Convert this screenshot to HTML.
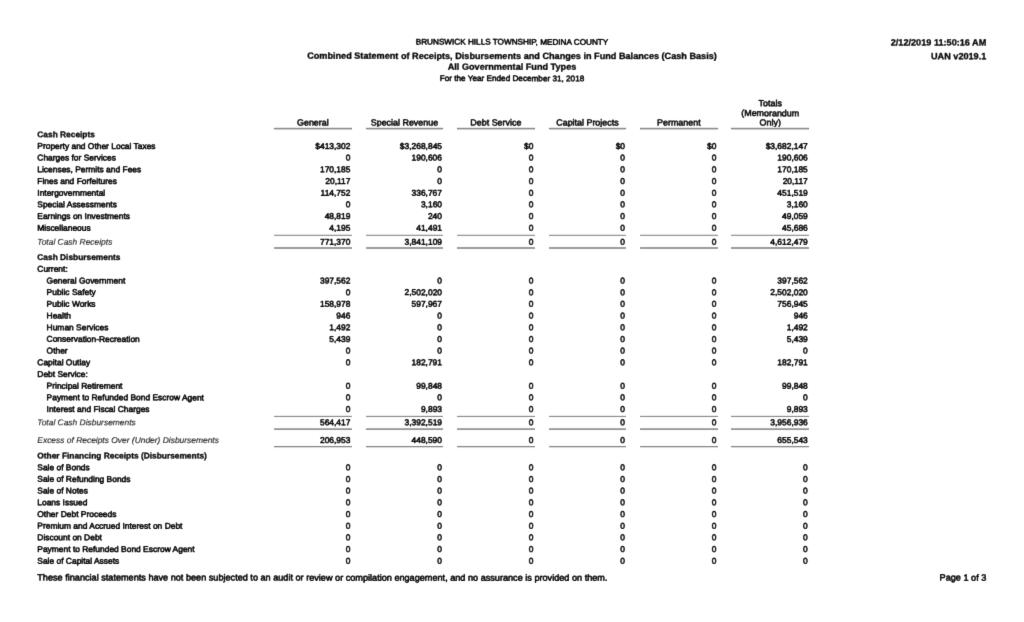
<!DOCTYPE html>
<html lang="en">
<head>
<meta charset="utf-8">
<title>Combined Statement of Receipts, Disbursements and Changes in Fund Balances</title>
<style>
html,body{margin:0;padding:0;background:#fff;}
body{width:1024px;height:622px;position:relative;overflow:hidden;
 font-family:"Liberation Sans",Arial,Helvetica,sans-serif;color:#1c1c1c;}
.pg{position:absolute;left:0;top:0;width:1024px;height:622px;will-change:transform;filter:grayscale(1) url(#soft);}
.t{position:absolute;left:0;top:0;transform-origin:0 0;white-space:nowrap;line-height:12px;
 font-size:8.43px;-webkit-text-stroke:0.52px #1c1c1c;}
.b{font-weight:bold;font-size:8.37px;-webkit-text-stroke:0.3px #1c1c1c;}
.i{font-style:italic;color:#383838;-webkit-text-stroke:0.16px #383838;}
.n{text-align:right;width:78px;}
.c{text-align:center;width:1024px;}
.h{text-align:center;width:77.7px;font-size:8.92px;-webkit-text-stroke:0.5px #1c1c1c;}
.g,.b.g{font-size:9.14px;}
.s{font-size:8.18px;-webkit-text-stroke-width:0.5px;}
.e{text-align:right;width:200px;}
.ln{position:absolute;width:77.7px;}
.u0{top:127px;height:3px;background:linear-gradient(to bottom,#f2f2f2 0px 1px,#7f7f7f 1px 2px,#d9d9d9 2px 3px);}
.u1{top:234px;height:2px;background:linear-gradient(to bottom,#e9e9e9 0px 1px,#9c9c9c 1px 2px);}
.u2{top:247px;height:2px;background:linear-gradient(to bottom,#a5a5a5 0px 1px,#a5a5a5 1px 2px);}
.u3{top:415px;height:2px;background:linear-gradient(to bottom,#f5f5f5 0px 1px,#8f8f8f 1px 2px);}
.u4{top:428px;height:2px;background:linear-gradient(to bottom,#b5b5b5 0px 1px,#9c9c9c 1px 2px);}
.u5{top:446px;height:2px;background:linear-gradient(to bottom,#8c8c8c 0px 1px,#e5e5e5 1px 2px);}
</style>
</head>
<body>
<svg width="0" height="0" style="position:absolute" aria-hidden="true">
<filter id="soft" x="0" y="0" width="100%" height="100%" color-interpolation-filters="sRGB">
<feConvolveMatrix order="3" kernelMatrix="0.02 0.085 0.02 0.085 0.580 0.085 0.02 0.085 0.02" edgeMode="none"/>
<feComponentTransfer><feFuncA type="linear" slope="1.2" intercept="-0.04"/></feComponentTransfer>
</filter>
</svg>
<div class="pg">
<!-- report header -->
<div class="t c s" style="transform:matrix(1,0.0005,0,1,0.00,36.36)">BRUNSWICK HILLS TOWNSHIP, MEDINA COUNTY</div>
<div class="t c b g" style="transform:matrix(1,0.0005,0,1,0.00,49.68)">Combined Statement of Receipts, Disbursements and Changes in Fund Balances (Cash Basis)</div>
<div class="t c b g" style="transform:matrix(1,0.0005,0,1,0.00,60.48)">All Governmental Fund Types</div>
<div class="t c s" style="transform:matrix(1,0.0005,0,1,0.00,72.86)">For the Year Ended December 31, 2018</div>
<div class="t e b g" style="transform:matrix(1,0.0005,0,1,786.30,36.46)">2/12/2019 11:50:16 AM</div>
<div class="t e b g" style="transform:matrix(1,0.0005,0,1,786.30,50.25)">UAN v2019.1</div>
<!-- column headings -->
<div class="t h" style="transform:matrix(1,0.0005,0,1,274.00,116.51)">General</div>
<div class="t h" style="transform:matrix(1,0.0005,0,1,365.60,116.51)">Special Revenue</div>
<div class="t h" style="transform:matrix(1,0.0005,0,1,457.00,116.51)">Debt Service</div>
<div class="t h" style="transform:matrix(1,0.0005,0,1,548.60,116.51)">Capital Projects</div>
<div class="t h" style="transform:matrix(1,0.0005,0,1,640.00,116.51)">Permanent</div>
<div class="t h" style="transform:matrix(1,0.0005,0,1,731.40,97.21)">Totals</div>
<div class="t h" style="transform:matrix(1,0.0005,0,1,731.40,107.11)">(Memorandum</div>
<div class="t h" style="transform:matrix(1,0.0005,0,1,731.40,116.51)">Only)</div>
<div class="ln u0" style="left:274.0px"></div>
<div class="ln u0" style="left:365.6px"></div>
<div class="ln u0" style="left:457.0px"></div>
<div class="ln u0" style="left:548.6px"></div>
<div class="ln u0" style="left:640.0px"></div>
<div class="ln u0" style="left:731.4px"></div>
<!-- statement rows -->
<div class="t b" style="transform:matrix(1,0.0005,0,1,37.30,128.18)">Cash Receipts</div>
<div class="t" style="transform:matrix(1,0.0005,0,1,37.30,139.87)">Property and Other Local Taxes</div>
<div class="t n" style="transform:matrix(1,0.0005,0,1,272.40,139.87)">$413,302</div>
<div class="t n" style="transform:matrix(1,0.0005,0,1,364.00,139.87)">$3,268,845</div>
<div class="t n" style="transform:matrix(1,0.0005,0,1,455.40,139.87)">$0</div>
<div class="t n" style="transform:matrix(1,0.0005,0,1,547.00,139.87)">$0</div>
<div class="t n" style="transform:matrix(1,0.0005,0,1,638.40,139.87)">$0</div>
<div class="t n" style="transform:matrix(1,0.0005,0,1,729.80,139.87)">$3,682,147</div>
<div class="t" style="transform:matrix(1,0.0005,0,1,37.30,151.56)">Charges for Services</div>
<div class="t n" style="transform:matrix(1,0.0005,0,1,272.40,151.56)">0</div>
<div class="t n" style="transform:matrix(1,0.0005,0,1,364.00,151.56)">190,606</div>
<div class="t n" style="transform:matrix(1,0.0005,0,1,455.40,151.56)">0</div>
<div class="t n" style="transform:matrix(1,0.0005,0,1,547.00,151.56)">0</div>
<div class="t n" style="transform:matrix(1,0.0005,0,1,638.40,151.56)">0</div>
<div class="t n" style="transform:matrix(1,0.0005,0,1,729.80,151.56)">190,606</div>
<div class="t" style="transform:matrix(1,0.0005,0,1,37.30,163.25)">Licenses, Permits and Fees</div>
<div class="t n" style="transform:matrix(1,0.0005,0,1,272.40,163.25)">170,185</div>
<div class="t n" style="transform:matrix(1,0.0005,0,1,364.00,163.25)">0</div>
<div class="t n" style="transform:matrix(1,0.0005,0,1,455.40,163.25)">0</div>
<div class="t n" style="transform:matrix(1,0.0005,0,1,547.00,163.25)">0</div>
<div class="t n" style="transform:matrix(1,0.0005,0,1,638.40,163.25)">0</div>
<div class="t n" style="transform:matrix(1,0.0005,0,1,729.80,163.25)">170,185</div>
<div class="t" style="transform:matrix(1,0.0005,0,1,37.30,174.94)">Fines and Forfeitures</div>
<div class="t n" style="transform:matrix(1,0.0005,0,1,272.40,174.94)">20,117</div>
<div class="t n" style="transform:matrix(1,0.0005,0,1,364.00,174.94)">0</div>
<div class="t n" style="transform:matrix(1,0.0005,0,1,455.40,174.94)">0</div>
<div class="t n" style="transform:matrix(1,0.0005,0,1,547.00,174.94)">0</div>
<div class="t n" style="transform:matrix(1,0.0005,0,1,638.40,174.94)">0</div>
<div class="t n" style="transform:matrix(1,0.0005,0,1,729.80,174.94)">20,117</div>
<div class="t" style="transform:matrix(1,0.0005,0,1,37.30,186.63)">Intergovernmental</div>
<div class="t n" style="transform:matrix(1,0.0005,0,1,272.40,186.63)">114,752</div>
<div class="t n" style="transform:matrix(1,0.0005,0,1,364.00,186.63)">336,767</div>
<div class="t n" style="transform:matrix(1,0.0005,0,1,455.40,186.63)">0</div>
<div class="t n" style="transform:matrix(1,0.0005,0,1,547.00,186.63)">0</div>
<div class="t n" style="transform:matrix(1,0.0005,0,1,638.40,186.63)">0</div>
<div class="t n" style="transform:matrix(1,0.0005,0,1,729.80,186.63)">451,519</div>
<div class="t" style="transform:matrix(1,0.0005,0,1,37.30,198.32)">Special Assessments</div>
<div class="t n" style="transform:matrix(1,0.0005,0,1,272.40,198.32)">0</div>
<div class="t n" style="transform:matrix(1,0.0005,0,1,364.00,198.32)">3,160</div>
<div class="t n" style="transform:matrix(1,0.0005,0,1,455.40,198.32)">0</div>
<div class="t n" style="transform:matrix(1,0.0005,0,1,547.00,198.32)">0</div>
<div class="t n" style="transform:matrix(1,0.0005,0,1,638.40,198.32)">0</div>
<div class="t n" style="transform:matrix(1,0.0005,0,1,729.80,198.32)">3,160</div>
<div class="t" style="transform:matrix(1,0.0005,0,1,37.30,210.01)">Earnings on Investments</div>
<div class="t n" style="transform:matrix(1,0.0005,0,1,272.40,210.01)">48,819</div>
<div class="t n" style="transform:matrix(1,0.0005,0,1,364.00,210.01)">240</div>
<div class="t n" style="transform:matrix(1,0.0005,0,1,455.40,210.01)">0</div>
<div class="t n" style="transform:matrix(1,0.0005,0,1,547.00,210.01)">0</div>
<div class="t n" style="transform:matrix(1,0.0005,0,1,638.40,210.01)">0</div>
<div class="t n" style="transform:matrix(1,0.0005,0,1,729.80,210.01)">49,059</div>
<div class="t" style="transform:matrix(1,0.0005,0,1,37.30,221.70)">Miscellaneous</div>
<div class="t n" style="transform:matrix(1,0.0005,0,1,272.40,221.70)">4,195</div>
<div class="t n" style="transform:matrix(1,0.0005,0,1,364.00,221.70)">41,491</div>
<div class="t n" style="transform:matrix(1,0.0005,0,1,455.40,221.70)">0</div>
<div class="t n" style="transform:matrix(1,0.0005,0,1,547.00,221.70)">0</div>
<div class="t n" style="transform:matrix(1,0.0005,0,1,638.40,221.70)">0</div>
<div class="t n" style="transform:matrix(1,0.0005,0,1,729.80,221.70)">45,686</div>
<div class="t i" style="transform:matrix(1,0.0005,0,1,37.30,235.63)">Total Cash Receipts</div>
<div class="t n" style="transform:matrix(1,0.0005,0,1,272.40,235.63)">771,370</div>
<div class="t n" style="transform:matrix(1,0.0005,0,1,364.00,235.63)">3,841,109</div>
<div class="t n" style="transform:matrix(1,0.0005,0,1,455.40,235.63)">0</div>
<div class="t n" style="transform:matrix(1,0.0005,0,1,547.00,235.63)">0</div>
<div class="t n" style="transform:matrix(1,0.0005,0,1,638.40,235.63)">0</div>
<div class="t n" style="transform:matrix(1,0.0005,0,1,729.80,235.63)">4,612,479</div>
<div class="t b" style="transform:matrix(1,0.0005,0,1,37.30,251.03)">Cash Disbursements</div>
<div class="t" style="transform:matrix(1,0.0005,0,1,37.30,262.72)">Current:</div>
<div class="t" style="transform:matrix(1,0.0005,0,1,46.60,274.41)">General Government</div>
<div class="t n" style="transform:matrix(1,0.0005,0,1,272.40,274.41)">397,562</div>
<div class="t n" style="transform:matrix(1,0.0005,0,1,364.00,274.41)">0</div>
<div class="t n" style="transform:matrix(1,0.0005,0,1,455.40,274.41)">0</div>
<div class="t n" style="transform:matrix(1,0.0005,0,1,547.00,274.41)">0</div>
<div class="t n" style="transform:matrix(1,0.0005,0,1,638.40,274.41)">0</div>
<div class="t n" style="transform:matrix(1,0.0005,0,1,729.80,274.41)">397,562</div>
<div class="t" style="transform:matrix(1,0.0005,0,1,46.60,286.10)">Public Safety</div>
<div class="t n" style="transform:matrix(1,0.0005,0,1,272.40,286.10)">0</div>
<div class="t n" style="transform:matrix(1,0.0005,0,1,364.00,286.10)">2,502,020</div>
<div class="t n" style="transform:matrix(1,0.0005,0,1,455.40,286.10)">0</div>
<div class="t n" style="transform:matrix(1,0.0005,0,1,547.00,286.10)">0</div>
<div class="t n" style="transform:matrix(1,0.0005,0,1,638.40,286.10)">0</div>
<div class="t n" style="transform:matrix(1,0.0005,0,1,729.80,286.10)">2,502,020</div>
<div class="t" style="transform:matrix(1,0.0005,0,1,46.60,297.79)">Public Works</div>
<div class="t n" style="transform:matrix(1,0.0005,0,1,272.40,297.79)">158,978</div>
<div class="t n" style="transform:matrix(1,0.0005,0,1,364.00,297.79)">597,967</div>
<div class="t n" style="transform:matrix(1,0.0005,0,1,455.40,297.79)">0</div>
<div class="t n" style="transform:matrix(1,0.0005,0,1,547.00,297.79)">0</div>
<div class="t n" style="transform:matrix(1,0.0005,0,1,638.40,297.79)">0</div>
<div class="t n" style="transform:matrix(1,0.0005,0,1,729.80,297.79)">756,945</div>
<div class="t" style="transform:matrix(1,0.0005,0,1,46.60,309.48)">Health</div>
<div class="t n" style="transform:matrix(1,0.0005,0,1,272.40,309.48)">946</div>
<div class="t n" style="transform:matrix(1,0.0005,0,1,364.00,309.48)">0</div>
<div class="t n" style="transform:matrix(1,0.0005,0,1,455.40,309.48)">0</div>
<div class="t n" style="transform:matrix(1,0.0005,0,1,547.00,309.48)">0</div>
<div class="t n" style="transform:matrix(1,0.0005,0,1,638.40,309.48)">0</div>
<div class="t n" style="transform:matrix(1,0.0005,0,1,729.80,309.48)">946</div>
<div class="t" style="transform:matrix(1,0.0005,0,1,46.60,321.17)">Human Services</div>
<div class="t n" style="transform:matrix(1,0.0005,0,1,272.40,321.17)">1,492</div>
<div class="t n" style="transform:matrix(1,0.0005,0,1,364.00,321.17)">0</div>
<div class="t n" style="transform:matrix(1,0.0005,0,1,455.40,321.17)">0</div>
<div class="t n" style="transform:matrix(1,0.0005,0,1,547.00,321.17)">0</div>
<div class="t n" style="transform:matrix(1,0.0005,0,1,638.40,321.17)">0</div>
<div class="t n" style="transform:matrix(1,0.0005,0,1,729.80,321.17)">1,492</div>
<div class="t" style="transform:matrix(1,0.0005,0,1,46.60,332.86)">Conservation-Recreation</div>
<div class="t n" style="transform:matrix(1,0.0005,0,1,272.40,332.86)">5,439</div>
<div class="t n" style="transform:matrix(1,0.0005,0,1,364.00,332.86)">0</div>
<div class="t n" style="transform:matrix(1,0.0005,0,1,455.40,332.86)">0</div>
<div class="t n" style="transform:matrix(1,0.0005,0,1,547.00,332.86)">0</div>
<div class="t n" style="transform:matrix(1,0.0005,0,1,638.40,332.86)">0</div>
<div class="t n" style="transform:matrix(1,0.0005,0,1,729.80,332.86)">5,439</div>
<div class="t" style="transform:matrix(1,0.0005,0,1,46.60,344.55)">Other</div>
<div class="t n" style="transform:matrix(1,0.0005,0,1,272.40,344.55)">0</div>
<div class="t n" style="transform:matrix(1,0.0005,0,1,364.00,344.55)">0</div>
<div class="t n" style="transform:matrix(1,0.0005,0,1,455.40,344.55)">0</div>
<div class="t n" style="transform:matrix(1,0.0005,0,1,547.00,344.55)">0</div>
<div class="t n" style="transform:matrix(1,0.0005,0,1,638.40,344.55)">0</div>
<div class="t n" style="transform:matrix(1,0.0005,0,1,729.80,344.55)">0</div>
<div class="t" style="transform:matrix(1,0.0005,0,1,37.30,356.24)">Capital Outlay</div>
<div class="t n" style="transform:matrix(1,0.0005,0,1,272.40,356.24)">0</div>
<div class="t n" style="transform:matrix(1,0.0005,0,1,364.00,356.24)">182,791</div>
<div class="t n" style="transform:matrix(1,0.0005,0,1,455.40,356.24)">0</div>
<div class="t n" style="transform:matrix(1,0.0005,0,1,547.00,356.24)">0</div>
<div class="t n" style="transform:matrix(1,0.0005,0,1,638.40,356.24)">0</div>
<div class="t n" style="transform:matrix(1,0.0005,0,1,729.80,356.24)">182,791</div>
<div class="t" style="transform:matrix(1,0.0005,0,1,37.30,367.93)">Debt Service:</div>
<div class="t" style="transform:matrix(1,0.0005,0,1,46.60,379.62)">Principal Retirement</div>
<div class="t n" style="transform:matrix(1,0.0005,0,1,272.40,379.62)">0</div>
<div class="t n" style="transform:matrix(1,0.0005,0,1,364.00,379.62)">99,848</div>
<div class="t n" style="transform:matrix(1,0.0005,0,1,455.40,379.62)">0</div>
<div class="t n" style="transform:matrix(1,0.0005,0,1,547.00,379.62)">0</div>
<div class="t n" style="transform:matrix(1,0.0005,0,1,638.40,379.62)">0</div>
<div class="t n" style="transform:matrix(1,0.0005,0,1,729.80,379.62)">99,848</div>
<div class="t" style="transform:matrix(1,0.0005,0,1,46.60,391.31)">Payment to Refunded Bond Escrow Agent</div>
<div class="t n" style="transform:matrix(1,0.0005,0,1,272.40,391.31)">0</div>
<div class="t n" style="transform:matrix(1,0.0005,0,1,364.00,391.31)">0</div>
<div class="t n" style="transform:matrix(1,0.0005,0,1,455.40,391.31)">0</div>
<div class="t n" style="transform:matrix(1,0.0005,0,1,547.00,391.31)">0</div>
<div class="t n" style="transform:matrix(1,0.0005,0,1,638.40,391.31)">0</div>
<div class="t n" style="transform:matrix(1,0.0005,0,1,729.80,391.31)">0</div>
<div class="t" style="transform:matrix(1,0.0005,0,1,46.60,403.00)">Interest and Fiscal Charges</div>
<div class="t n" style="transform:matrix(1,0.0005,0,1,272.40,403.00)">0</div>
<div class="t n" style="transform:matrix(1,0.0005,0,1,364.00,403.00)">9,893</div>
<div class="t n" style="transform:matrix(1,0.0005,0,1,455.40,403.00)">0</div>
<div class="t n" style="transform:matrix(1,0.0005,0,1,547.00,403.00)">0</div>
<div class="t n" style="transform:matrix(1,0.0005,0,1,638.40,403.00)">0</div>
<div class="t n" style="transform:matrix(1,0.0005,0,1,729.80,403.00)">9,893</div>
<div class="t i" style="transform:matrix(1,0.0005,0,1,37.30,416.23)">Total Cash Disbursements</div>
<div class="t n" style="transform:matrix(1,0.0005,0,1,272.40,416.23)">564,417</div>
<div class="t n" style="transform:matrix(1,0.0005,0,1,364.00,416.23)">3,392,519</div>
<div class="t n" style="transform:matrix(1,0.0005,0,1,455.40,416.23)">0</div>
<div class="t n" style="transform:matrix(1,0.0005,0,1,547.00,416.23)">0</div>
<div class="t n" style="transform:matrix(1,0.0005,0,1,638.40,416.23)">0</div>
<div class="t n" style="transform:matrix(1,0.0005,0,1,729.80,416.23)">3,956,936</div>
<div class="t i" style="transform:matrix(1,0.0005,0,1,37.30,434.03)">Excess of Receipts Over (Under) Disbursements</div>
<div class="t n" style="transform:matrix(1,0.0005,0,1,272.40,434.03)">206,953</div>
<div class="t n" style="transform:matrix(1,0.0005,0,1,364.00,434.03)">448,590</div>
<div class="t n" style="transform:matrix(1,0.0005,0,1,455.40,434.03)">0</div>
<div class="t n" style="transform:matrix(1,0.0005,0,1,547.00,434.03)">0</div>
<div class="t n" style="transform:matrix(1,0.0005,0,1,638.40,434.03)">0</div>
<div class="t n" style="transform:matrix(1,0.0005,0,1,729.80,434.03)">655,543</div>
<div class="t b" style="transform:matrix(1,0.0005,0,1,37.30,449.48)">Other Financing Receipts (Disbursements)</div>
<div class="t" style="transform:matrix(1,0.0005,0,1,37.30,461.17)">Sale of Bonds</div>
<div class="t n" style="transform:matrix(1,0.0005,0,1,272.40,461.17)">0</div>
<div class="t n" style="transform:matrix(1,0.0005,0,1,364.00,461.17)">0</div>
<div class="t n" style="transform:matrix(1,0.0005,0,1,455.40,461.17)">0</div>
<div class="t n" style="transform:matrix(1,0.0005,0,1,547.00,461.17)">0</div>
<div class="t n" style="transform:matrix(1,0.0005,0,1,638.40,461.17)">0</div>
<div class="t n" style="transform:matrix(1,0.0005,0,1,729.80,461.17)">0</div>
<div class="t" style="transform:matrix(1,0.0005,0,1,37.30,472.86)">Sale of Refunding Bonds</div>
<div class="t n" style="transform:matrix(1,0.0005,0,1,272.40,472.86)">0</div>
<div class="t n" style="transform:matrix(1,0.0005,0,1,364.00,472.86)">0</div>
<div class="t n" style="transform:matrix(1,0.0005,0,1,455.40,472.86)">0</div>
<div class="t n" style="transform:matrix(1,0.0005,0,1,547.00,472.86)">0</div>
<div class="t n" style="transform:matrix(1,0.0005,0,1,638.40,472.86)">0</div>
<div class="t n" style="transform:matrix(1,0.0005,0,1,729.80,472.86)">0</div>
<div class="t" style="transform:matrix(1,0.0005,0,1,37.30,484.55)">Sale of Notes</div>
<div class="t n" style="transform:matrix(1,0.0005,0,1,272.40,484.55)">0</div>
<div class="t n" style="transform:matrix(1,0.0005,0,1,364.00,484.55)">0</div>
<div class="t n" style="transform:matrix(1,0.0005,0,1,455.40,484.55)">0</div>
<div class="t n" style="transform:matrix(1,0.0005,0,1,547.00,484.55)">0</div>
<div class="t n" style="transform:matrix(1,0.0005,0,1,638.40,484.55)">0</div>
<div class="t n" style="transform:matrix(1,0.0005,0,1,729.80,484.55)">0</div>
<div class="t" style="transform:matrix(1,0.0005,0,1,37.30,496.24)">Loans Issued</div>
<div class="t n" style="transform:matrix(1,0.0005,0,1,272.40,496.24)">0</div>
<div class="t n" style="transform:matrix(1,0.0005,0,1,364.00,496.24)">0</div>
<div class="t n" style="transform:matrix(1,0.0005,0,1,455.40,496.24)">0</div>
<div class="t n" style="transform:matrix(1,0.0005,0,1,547.00,496.24)">0</div>
<div class="t n" style="transform:matrix(1,0.0005,0,1,638.40,496.24)">0</div>
<div class="t n" style="transform:matrix(1,0.0005,0,1,729.80,496.24)">0</div>
<div class="t" style="transform:matrix(1,0.0005,0,1,37.30,507.93)">Other Debt Proceeds</div>
<div class="t n" style="transform:matrix(1,0.0005,0,1,272.40,507.93)">0</div>
<div class="t n" style="transform:matrix(1,0.0005,0,1,364.00,507.93)">0</div>
<div class="t n" style="transform:matrix(1,0.0005,0,1,455.40,507.93)">0</div>
<div class="t n" style="transform:matrix(1,0.0005,0,1,547.00,507.93)">0</div>
<div class="t n" style="transform:matrix(1,0.0005,0,1,638.40,507.93)">0</div>
<div class="t n" style="transform:matrix(1,0.0005,0,1,729.80,507.93)">0</div>
<div class="t" style="transform:matrix(1,0.0005,0,1,37.30,519.62)">Premium and Accrued Interest on Debt</div>
<div class="t n" style="transform:matrix(1,0.0005,0,1,272.40,519.62)">0</div>
<div class="t n" style="transform:matrix(1,0.0005,0,1,364.00,519.62)">0</div>
<div class="t n" style="transform:matrix(1,0.0005,0,1,455.40,519.62)">0</div>
<div class="t n" style="transform:matrix(1,0.0005,0,1,547.00,519.62)">0</div>
<div class="t n" style="transform:matrix(1,0.0005,0,1,638.40,519.62)">0</div>
<div class="t n" style="transform:matrix(1,0.0005,0,1,729.80,519.62)">0</div>
<div class="t" style="transform:matrix(1,0.0005,0,1,37.30,531.31)">Discount on Debt</div>
<div class="t n" style="transform:matrix(1,0.0005,0,1,272.40,531.31)">0</div>
<div class="t n" style="transform:matrix(1,0.0005,0,1,364.00,531.31)">0</div>
<div class="t n" style="transform:matrix(1,0.0005,0,1,455.40,531.31)">0</div>
<div class="t n" style="transform:matrix(1,0.0005,0,1,547.00,531.31)">0</div>
<div class="t n" style="transform:matrix(1,0.0005,0,1,638.40,531.31)">0</div>
<div class="t n" style="transform:matrix(1,0.0005,0,1,729.80,531.31)">0</div>
<div class="t" style="transform:matrix(1,0.0005,0,1,37.30,543.00)">Payment to Refunded Bond Escrow Agent</div>
<div class="t n" style="transform:matrix(1,0.0005,0,1,272.40,543.00)">0</div>
<div class="t n" style="transform:matrix(1,0.0005,0,1,364.00,543.00)">0</div>
<div class="t n" style="transform:matrix(1,0.0005,0,1,455.40,543.00)">0</div>
<div class="t n" style="transform:matrix(1,0.0005,0,1,547.00,543.00)">0</div>
<div class="t n" style="transform:matrix(1,0.0005,0,1,638.40,543.00)">0</div>
<div class="t n" style="transform:matrix(1,0.0005,0,1,729.80,543.00)">0</div>
<div class="t" style="transform:matrix(1,0.0005,0,1,37.30,554.69)">Sale of Capital Assets</div>
<div class="t n" style="transform:matrix(1,0.0005,0,1,272.40,554.69)">0</div>
<div class="t n" style="transform:matrix(1,0.0005,0,1,364.00,554.69)">0</div>
<div class="t n" style="transform:matrix(1,0.0005,0,1,455.40,554.69)">0</div>
<div class="t n" style="transform:matrix(1,0.0005,0,1,547.00,554.69)">0</div>
<div class="t n" style="transform:matrix(1,0.0005,0,1,638.40,554.69)">0</div>
<div class="t n" style="transform:matrix(1,0.0005,0,1,729.80,554.69)">0</div>
<!-- total rules -->
<div class="ln u1" style="left:274.0px"></div>
<div class="ln u1" style="left:365.6px"></div>
<div class="ln u1" style="left:457.0px"></div>
<div class="ln u1" style="left:548.6px"></div>
<div class="ln u1" style="left:640.0px"></div>
<div class="ln u1" style="left:731.4px"></div>
<div class="ln u2" style="left:274.0px"></div>
<div class="ln u2" style="left:365.6px"></div>
<div class="ln u2" style="left:457.0px"></div>
<div class="ln u2" style="left:548.6px"></div>
<div class="ln u2" style="left:640.0px"></div>
<div class="ln u2" style="left:731.4px"></div>
<div class="ln u3" style="left:274.0px"></div>
<div class="ln u3" style="left:365.6px"></div>
<div class="ln u3" style="left:457.0px"></div>
<div class="ln u3" style="left:548.6px"></div>
<div class="ln u3" style="left:640.0px"></div>
<div class="ln u3" style="left:731.4px"></div>
<div class="ln u4" style="left:274.0px"></div>
<div class="ln u4" style="left:365.6px"></div>
<div class="ln u4" style="left:457.0px"></div>
<div class="ln u4" style="left:548.6px"></div>
<div class="ln u4" style="left:640.0px"></div>
<div class="ln u4" style="left:731.4px"></div>
<div class="ln u5" style="left:274.0px"></div>
<div class="ln u5" style="left:365.6px"></div>
<div class="ln u5" style="left:457.0px"></div>
<div class="ln u5" style="left:548.6px"></div>
<div class="ln u5" style="left:640.0px"></div>
<div class="ln u5" style="left:731.4px"></div>
<!-- footer -->
<div class="t g" style="transform:matrix(1,0.0005,0,1,37.30,571.49)">These financial statements have not been subjected to an audit or review or compilation engagement, and no assurance is provided on them.</div>
<div class="t e g" style="transform:matrix(1,0.0005,0,1,786.30,571.54)">Page 1 of 3</div>
</div>
</body>
</html>
